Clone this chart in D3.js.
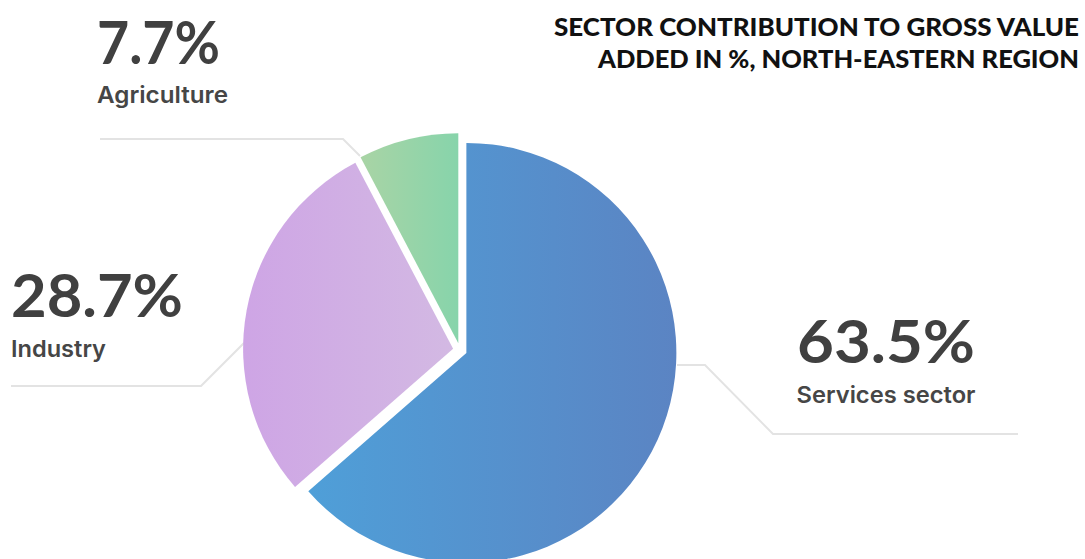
<!DOCTYPE html>
<html>
<head>
<meta charset="utf-8">
<script src="https://cdn.jsdelivr.net/npm/d3@7"></script>
<style>
  html, body { margin: 0; padding: 0; background: #ffffff; }
  svg { display: block; }
  text { font-family: Lato, "Open Sans", sans-serif; }
  .name { font-family: Inter, Lato, sans-serif; }
</style>
</head>
<body>
<svg id="chart" width="1085" height="559"></svg>
<script>
// Sector shares of gross value added (%), in drawing order clockwise from 12 o'clock
const sectors = ["Services sector", "Industry", "Agriculture"];
const shares = [63.5, 28.7, 7.7];
const shareLabels = ["63.5%", "28.7%", "7.7%"];
const titleLines = ["SECTOR CONTRIBUTION TO GROSS VALUE", "ADDED IN %, NORTH-EASTERN REGION"];

// Horizontal colour ramps for each slice (left stop, right stop)
const gradStops = [
  ["#4f9fd8", "#5b84c3"],
  ["#cea5e5", "#d3b9e3"],
  ["#a9d4a5", "#87d4ab"]
];

const svg = d3.select("#chart");
const W = 1085, H = 559;
const cx = 460, cy = 350, radius = 210, explode = 7;

svg.append("rect").attr("width", W).attr("height", H).attr("fill", "#ffffff");

const defs = svg.append("defs");
gradStops.forEach((s, i) => {
  const g = defs.append("linearGradient")
    .attr("id", "slice-grad-" + i)
    .attr("x1", 0).attr("y1", 0).attr("x2", 1).attr("y2", 0);
  g.append("stop").attr("offset", "0%").attr("stop-color", s[0]);
  g.append("stop").attr("offset", "100%").attr("stop-color", s[1]);
});

// Leader lines, drawn first so slices sit on top of them
const leaders = [
  [[677, 365], [705, 365], [773, 434], [1018, 434]],
  [[11, 386], [201, 386], [246, 341]],
  [[100, 139], [343, 139], [360, 156]]
];
const lineGen = d3.line();
svg.append("g").selectAll("path")
  .data(leaders)
  .join("path")
  .attr("d", d => lineGen(d))
  .attr("fill", "none")
  .attr("stroke", "#e3e3e3")
  .attr("stroke-width", 2);

// Pie
const pie = d3.pie().sort(null).value(d => d).startAngle(0).endAngle(2 * Math.PI);
const arcs = pie(shares);
const arc = d3.arc().innerRadius(0).outerRadius(radius);

svg.append("g")
  .attr("transform", `translate(${cx},${cy})`)
  .selectAll("path")
  .data(arcs)
  .join("path")
  .attr("transform", d => {
    const mid = (d.startAngle + d.endAngle) / 2;
    return `translate(${explode * Math.sin(mid)},${-explode * Math.cos(mid)})`;
  })
  .attr("d", arc)
  .attr("fill", (d, i) => `url(#slice-grad-${i})`);

// Value and name labels
const labelPos = [
  { x: 886, anchor: "middle", yVal: 363, yName: 403, wVal: 178, wName: 179 },
  { x: 11, anchor: "start", yVal: 317, yName: 357, wVal: 172, wName: 95 },
  { x: 97, anchor: "start", yVal: 64, yName: 103, wVal: 123, wName: 131 }
];

const lg = svg.append("g");
sectors.forEach((name, i) => {
  const p = labelPos[i];
  lg.append("text")
    .attr("x", p.x).attr("y", p.yVal)
    .attr("text-anchor", p.anchor)
    .attr("font-size", 60).attr("font-weight", 700)
    .attr("fill", "#404040")
    .attr("textLength", p.wVal).attr("lengthAdjust", "spacingAndGlyphs")
    .text(shareLabels[i]);
  lg.append("text")
    .attr("class", "name")
    .attr("x", p.x).attr("y", p.yName)
    .attr("text-anchor", p.anchor)
    .attr("font-size", 23).attr("font-weight", 600)
    .attr("fill", "#464646")
    .attr("textLength", p.wName).attr("lengthAdjust", "spacingAndGlyphs")
    .text(name);
});

// Title, right aligned
const titleW = [525, 481];
svg.append("g").selectAll("text")
  .data(titleLines)
  .join("text")
  .attr("x", 1079)
  .attr("y", (d, i) => 36 + i * 32)
  .attr("text-anchor", "end")
  .attr("font-size", 24).attr("font-weight", 900)
  .attr("fill", "#111111")
  .attr("textLength", (d, i) => titleW[i]).attr("lengthAdjust", "spacingAndGlyphs")
  .text(d => d);
</script>
</body>
</html>
